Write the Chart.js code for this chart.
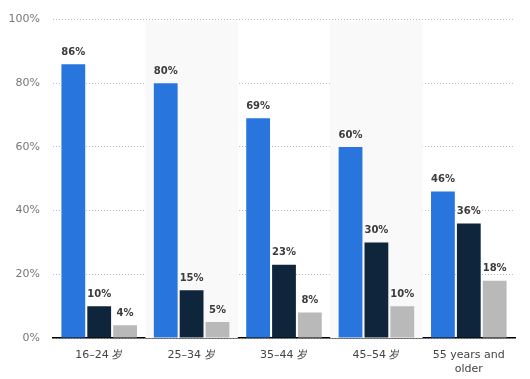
<!DOCTYPE html>
<html>
<head>
<meta charset="utf-8">
<script src="https://cdn.jsdelivr.net/npm/chart.js@4/dist/chart.umd.min.js"></script>
<style>
    html, body { margin: 0; padding: 0; background: #fff; }
    #wrap { width: 530px; height: 379px; }
</style>
</head>
<body>
<div id="wrap"><canvas id="barChart" width="530" height="379"></canvas></div>
<script>
var categories = ['16–24 岁', '25–34 岁', '35–44 岁', '45–54 岁', ['55 years and', 'older']];
var seriesBlue = [86, 80, 69, 60, 46];
var seriesNavy = [10, 15, 23, 30, 36];
var seriesGray = [4, 5, 8, 10, 18];
var yTicks = [0, 20, 40, 60, 80, 100];

// light shading behind every second category
var bandShade = {
    id: 'bandShade',
    beforeDatasetsDraw: function (chart) {
        var ctx = chart.ctx;
        var area = chart.chartArea;
        var x = chart.scales.x;
        var w = (area.right - area.left) / categories.length;
        ctx.save();
        ctx.fillStyle = '#f9f9f9';
        for (var i = 1; i < categories.length; i += 2) {
            var cx = x.getPixelForValue(i);
            ctx.fillRect(cx - w / 2, area.top + 1, w, area.bottom - area.top - 1);
        }
        ctx.restore();
    }
};

// value labels above each bar
var valueLabels = {
    id: 'valueLabels',
    afterDatasetsDraw: function (chart) {
        var ctx = chart.ctx;
        ctx.save();
        ctx.font = 'bold 10px "DejaVu Sans"';
        ctx.fillStyle = '#3c3c3c';
        ctx.textAlign = 'center';
        ctx.textBaseline = 'bottom';
        chart.data.datasets.forEach(function (ds, di) {
            chart.getDatasetMeta(di).data.forEach(function (bar, i) {
                ctx.fillText(ds.data[i] + '%', bar.x, bar.y - 7);
            });
        });
        ctx.restore();
    }
};

var ctx = document.getElementById('barChart').getContext('2d');
var chart = new Chart(ctx, {
    type: 'bar',
    data: {
        labels: categories,
        datasets: [
            { data: seriesBlue, backgroundColor: '#2876dd' },
            { data: seriesNavy, backgroundColor: '#0f253b' },
            { data: seriesGray, backgroundColor: '#b9b9b9' }
        ]
    },
    options: {
        responsive: false,
        animation: false,
        devicePixelRatio: 1,
        layout: { padding: { left: 8, right: 15, top: 13, bottom: 0 } },
        datasets: { bar: { categoryPercentage: 0.84, barPercentage: 0.92 } },
        plugins: { legend: { display: false }, tooltip: { enabled: false } },
        scales: {
            x: {
                afterFit: function (axis) { axis.height = 41; },
                grid: { display: false, drawTicks: false },
                border: { display: true, color: '#000', width: 1.5 },
                ticks: { color: '#444', font: { family: 'DejaVu Sans', size: 11 }, padding: 11, maxRotation: 0 }
            },
            y: {
                min: 0,
                max: 100,
                afterFit: function (axis) { axis.width = 45; },
                afterBuildTicks: function (axis) {
                    axis.ticks = yTicks.map(function (v) { return { value: v }; });
                },
                grid: { color: '#bdbdbd', lineWidth: 1, drawTicks: false },
                border: { display: false, dash: [1, 2] },
                ticks: {
                    color: '#777',
                    font: { family: 'DejaVu Sans', size: 11 },
                    padding: 13,
                    callback: function (v) { return v + '%'; }
                }
            }
        }
    },
    plugins: [bandShade, valueLabels]
});
</script>
</body>
</html>
